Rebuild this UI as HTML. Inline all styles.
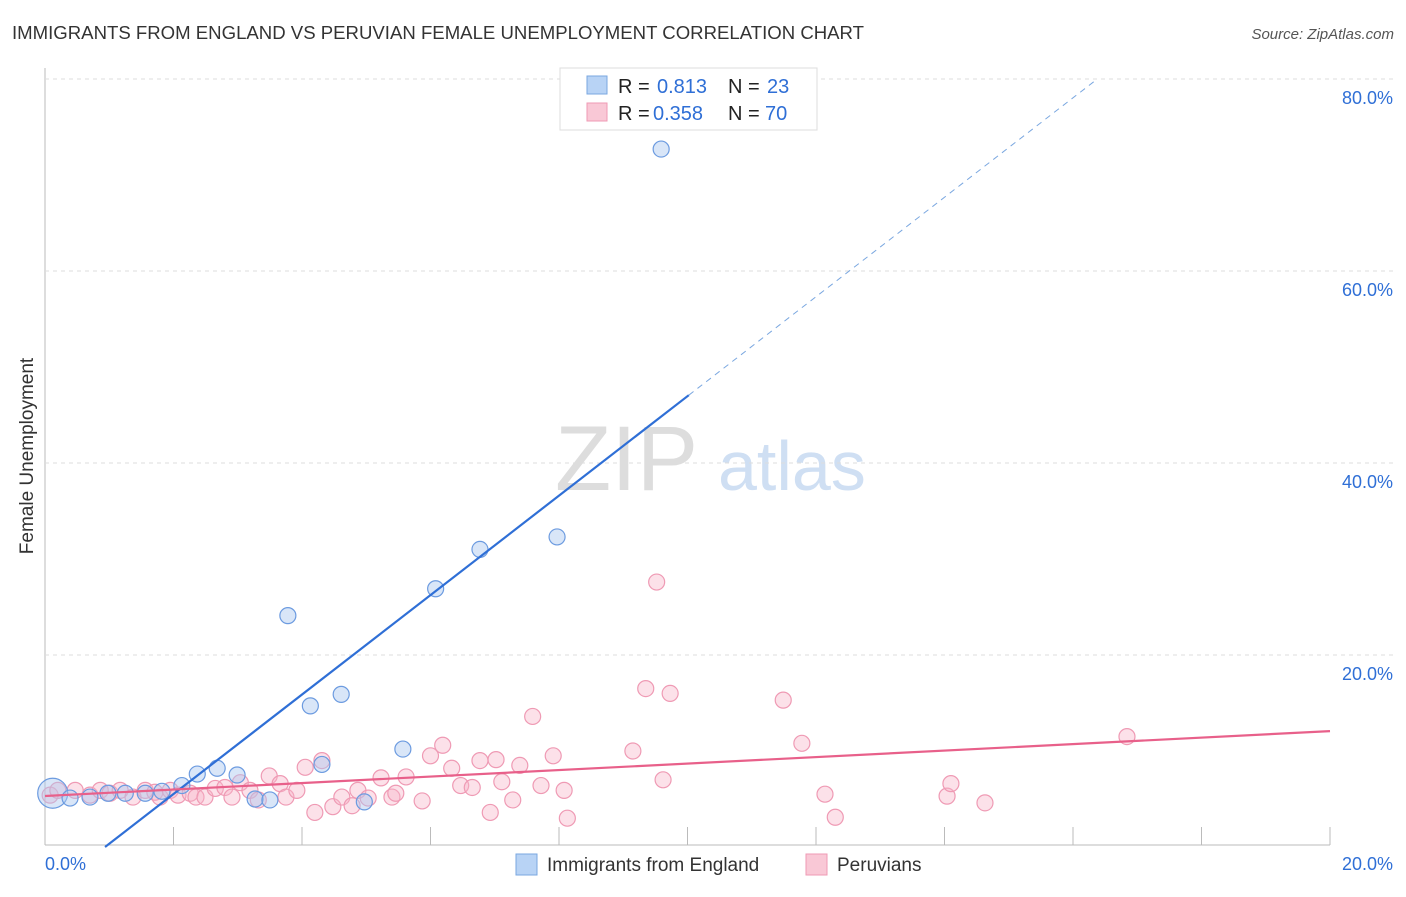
<!DOCTYPE html>
<html><head><meta charset="utf-8"><style>
body{margin:0;background:#fff;font-family:"Liberation Sans",sans-serif}
svg text{font-family:"Liberation Sans",sans-serif}
</style></head><body>
<svg id="chart" width="1406" height="892" viewBox="0 0 1406 892">
<text x="12" y="39" font-size="18" fill="#333" textLength="852" lengthAdjust="spacingAndGlyphs">IMMIGRANTS FROM ENGLAND VS PERUVIAN FEMALE UNEMPLOYMENT CORRELATION CHART</text>
<text x="1394" y="39" font-size="15" fill="#555" font-style="italic" text-anchor="end">Source: ZipAtlas.com</text>
<text x="33" y="456" font-size="19" fill="#333" text-anchor="middle" transform="rotate(-90 33 456)">Female Unemployment</text>
<text x="555" y="490" font-size="92" fill="#ddd" font-family="Liberation Serif">ZIP</text>
<text x="718" y="490" font-size="70" fill="#cfdff3">atlas</text>
<g id="grid"></g><g id="pts"></g><g id="lines"></g>
<g>
<rect x="560" y="68" width="257" height="62" fill="#fff" stroke="#ddd"/>
<rect x="587" y="76" width="20" height="18" fill="#b8d3f5" stroke="#7aa7e0"/>
<text x="618" y="93" font-size="20" fill="#222">R =</text>
<text x="657" y="93" font-size="20" fill="#2f6fd6">0.813</text>
<text x="728" y="93" font-size="20" fill="#222">N =</text>
<text x="767" y="93" font-size="20" fill="#2f6fd6">23</text>
<rect x="587" y="103" width="20" height="18" fill="#f9c8d6" stroke="#ef9ab4"/>
<text x="618" y="120" font-size="20" fill="#222">R =</text>
<text x="653" y="120" font-size="20" fill="#2f6fd6">0.358</text>
<text x="728" y="120" font-size="20" fill="#222">N =</text>
<text x="765" y="120" font-size="20" fill="#2f6fd6">70</text>
</g>
<g>
<rect x="516" y="854" width="21" height="21" fill="#b8d3f5" stroke="#7aa7e0"/>
<text x="547" y="871" font-size="19" fill="#333">Immigrants from England</text>
<rect x="806" y="854" width="21" height="21" fill="#f9c8d6" stroke="#ef9ab4"/>
<text x="837" y="871" font-size="19" fill="#333">Peruvians</text>
</g>
</svg>
<script>
const xTicks=[0,2,4,6,8,10,12,14,16,18,20];
const yTicks=[20,40,60,80];
const blueX=[0.12,0.39,0.70,0.98,1.25,1.56,1.82,2.13,2.37,2.68,2.99,3.27,3.50,3.78,4.13,4.31,4.61,4.97,5.57,6.08,6.77,7.97,9.59];
const blueY=[5.6,5.1,5.2,5.6,5.6,5.6,5.8,6.4,7.6,8.2,7.5,5.0,4.9,24.1,14.7,8.6,15.9,4.7,10.2,26.9,31.0,32.3,72.7];
const pinkX=[0.08,0.2,0.47,0.7,0.86,1.01,1.17,1.37,1.56,1.71,1.79,1.95,2.07,2.26,2.35,2.49,2.65,2.80,2.91,3.04,3.19,3.32,3.49,3.66,3.75,3.92,4.05,4.20,4.31,4.48,4.62,4.78,4.87,5.03,5.23,5.40,5.46,5.62,5.87,6.0,6.19,6.33,6.47,6.65,6.77,6.93,7.02,7.11,7.28,7.39,7.59,7.72,7.91,8.08,8.13,9.15,9.35,9.52,9.62,9.73,11.49,11.78,12.14,12.30,14.04,14.10,14.63,16.84];
const pinkY=[5.4,5.9,5.9,5.4,5.9,5.6,5.9,5.2,5.9,5.7,5.2,5.9,5.4,5.6,5.2,5.2,6.1,6.2,5.2,6.7,5.9,4.9,7.4,6.6,5.2,5.9,8.3,3.6,9.0,4.2,5.2,4.3,5.9,5.1,7.2,5.2,5.6,7.3,4.8,9.5,10.6,8.2,6.4,6.2,9.0,3.6,9.1,6.8,4.9,8.5,13.6,6.4,9.5,5.9,3.0,10.0,16.5,27.6,7.0,16.0,15.3,10.8,5.5,3.1,5.3,6.6,4.6,11.5];
const X=v=>45+v*64.25, Y=v=>847-v*9.6;
const ns="http://www.w3.org/2000/svg";
function mk(t,a,p){const e=document.createElementNS(ns,t);for(const k in a)e.setAttribute(k,a[k]);p.appendChild(e);return e;}
const g=document.getElementById('grid');
mk('line',{x1:45,y1:68,x2:45,y2:845,stroke:'#bbb'},g);
mk('line',{x1:45,y1:845,x2:1330,y2:845,stroke:'#bbb'},g);
yTicks.forEach(v=>{
 const l=mk('line',{x1:45,y1:Y(v),x2:1395,y2:Y(v),stroke:'#ddd','stroke-dasharray':'4,4'},g);
 
 
 const t=mk('text',{x:1393,y:Y(v)+25,'font-size':18,fill:'#2f6fd6','text-anchor':'end'},g);t.textContent=v.toFixed(1)+'%';
 
 
});
xTicks.forEach(v=>{ if(v>0) mk('line',{x1:X(v),y1:827,x2:X(v),y2:845,stroke:'#bbb'},g);});
[[0,'start',45],[20,'end',1393]].forEach(([v,a,x])=>{const t=mk('text',{x:x,y:870,'font-size':18,fill:'#2f6fd6','text-anchor':a},g);t.textContent=v.toFixed(1)+'%';
 
 });
const p=document.getElementById('pts');
pinkX.forEach((x,i)=>{const c=mk('circle',{cx:X(x),cy:Y(pinkY[i]),r:8,fill:'rgba(248,180,200,0.4)',stroke:'#ef9ab4','stroke-width':1.2},p);
 
 });
blueX.forEach((x,i)=>{const c=mk('circle',{cx:X(x),cy:Y(blueY[i]),r:i==0?15:8,fill:'rgba(170,200,240,0.45)',stroke:'#6c9be0','stroke-width':1.2},p);
 
 });
const L=document.getElementById('lines');
const ba=-4.84,bb=5.18,pa=5.31,pb=0.338;
const x0=-ba/bb;
let l1=mk('line',{x1:X(x0),y1:Y(0),x2:X(10.02),y2:Y(ba+bb*10.02),stroke:'#2f6fd6','stroke-width':2.2},L);


const xe=(80-ba)/bb;
let l2=mk('line',{x1:X(10.02),y1:Y(ba+bb*10.02),x2:X(xe),y2:Y(80),stroke:'#7aa7e0','stroke-width':1,'stroke-dasharray':'6,5'},L);


let l3=mk('line',{x1:X(0),y1:Y(pa),x2:X(20),y2:Y(pa+pb*20),stroke:'#e8608a','stroke-width':2.2},L);


</script>
</body></html>
